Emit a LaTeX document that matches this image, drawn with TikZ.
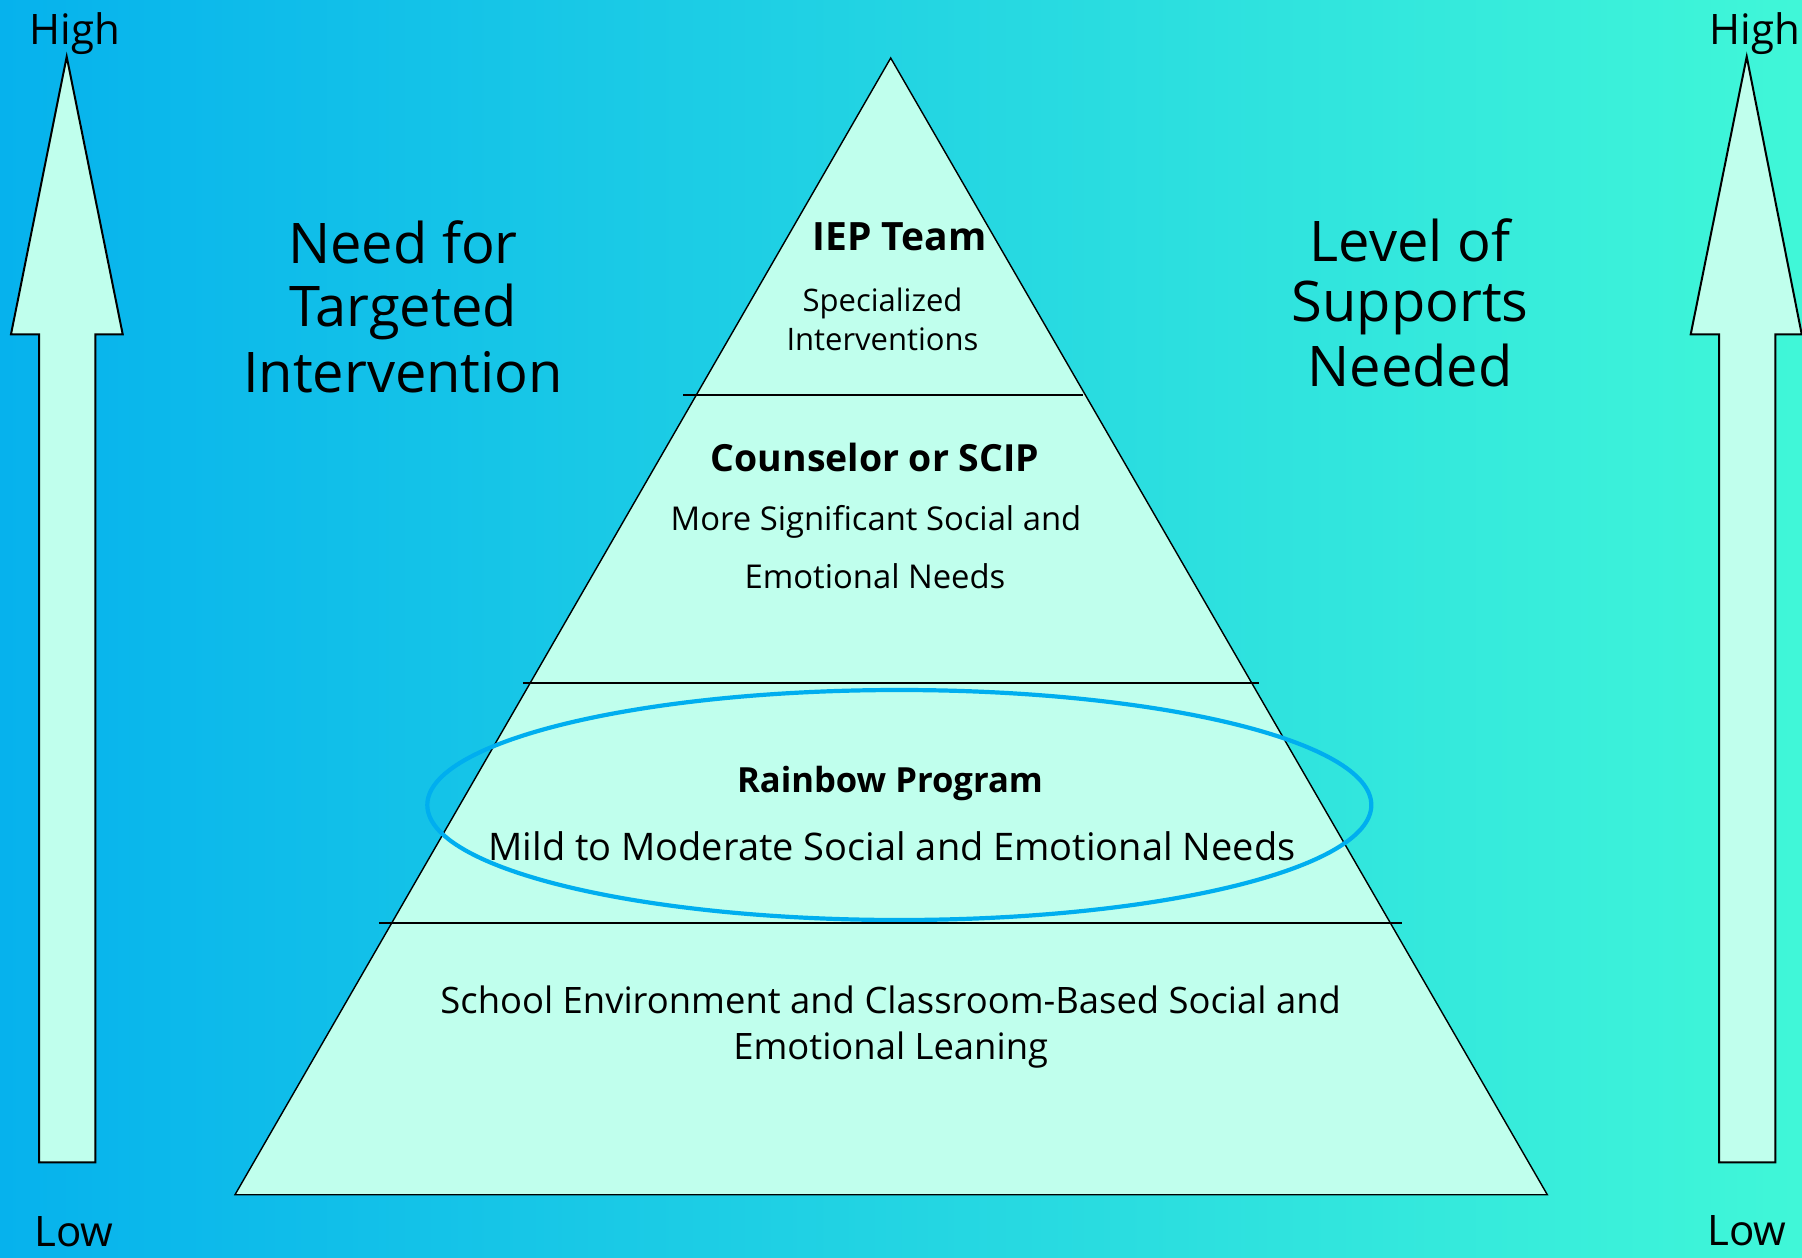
\documentclass[tikz,border=0pt]{standalone}
\usepackage{fontspec}
\setmainfont{Open Sans}
\definecolor{bgL}{RGB}{6,178,237}
\definecolor{bgR}{RGB}{64,247,216}
\definecolor{mint}{RGB}{192,255,237}
\definecolor{ringblue}{RGB}{0,174,239}
\begin{document}
\begin{tikzpicture}[x=0.5pt,y=-0.5pt,
  lbl/.style={anchor=base, inner sep=0pt, text=black},
  hilo/.style={lbl, font=\fontsize{21pt}{25pt}\selectfont},
  sidetitle/.style={lbl, font=\fontsize{28pt}{32pt}\selectfont},
  tierhead/.style={lbl, font=\fontsize{18.7pt}{22pt}\selectfont\bfseries},
  tiertext/.style={lbl, font=\fontsize{16.4pt}{19pt}\selectfont},
  smalltext/.style={lbl, font=\fontsize{15.5pt}{18pt}\selectfont},
  midtext/.style={lbl, font=\fontsize{19pt}{23pt}\selectfont},
  basetext/.style={lbl, font=\fontsize{18.2pt}{22pt}\selectfont},
  arrowshape/.style={draw=black, fill=mint, line width=1pt, line join=miter},
  tierline/.style={draw=black, line width=0.85pt}]
\shade[left color=bgL, right color=bgR] (0,0) rectangle (1802,1257);
\useasboundingbox (0,0) rectangle (1802,1257);

% up arrows
\draw[arrowshape] (66.7,56.7) -- (122.7,334.3) -- (95.3,334.3) -- (95.3,1162.3)
  -- (39,1162.3) -- (39,334.3) -- (11,334.3) -- cycle;
\draw[arrowshape] (1746.7,56.7) -- (1801.7,334.3) -- (1775.3,334.3) -- (1775.3,1162.3)
  -- (1719,1162.3) -- (1719,334.3) -- (1690.7,334.3) -- cycle;

% pyramid
\draw[fill=mint, line width=0.7pt, line join=miter] (890.7,58) -- (235,1194.7) -- (1547.3,1194.7) -- cycle;

% ring
\draw[ringblue, line width=2.1pt] (899.3,805) ellipse [x radius=472, y radius=115];

% tier lines
\coordinate (t1a) at (683.3,395); \coordinate (t1b) at (1083.3,395);
\coordinate (t2a) at (522.8,682.7); \coordinate (t2b) at (1258.9,682.7);
\coordinate (t3a) at (378.8,922.7); \coordinate (t3b) at (1402,922.7);
\draw[tierline] (t1a) -- (t1b);
\draw[tierline] (t2a) -- (t2b);
\draw[tierline] (t3a) -- (t3b);

% High / Low
\node[hilo] (highL) at (75,45) {High};
\node[hilo] (highR) at (1755,45) {High};
\node[hilo] (lowL) at (74,1246) {Low};
\node[hilo] (lowR) at (1747,1245) {Low};

% side titles
\node[sidetitle] (need1) at (403,263.3) {Need for};
\node[sidetitle] (need2) at (403,326) {Targeted};
\node[sidetitle] (need3) at (403,392.7) {Intervention};
\node[sidetitle] (lev1) at (1410,261.7) {Level of};
\node[sidetitle] (lev2) at (1410,321.7) {Supports};
\node[sidetitle] (lev3) at (1410,386.7) {Needed};

% tier texts
\node[tierhead, font=\fontsize{19.5pt}{22pt}\selectfont\bfseries] (iep) at (899.5,250) {IEP Team};
\node[smalltext] (spec1) at (882.5,311.7) {Specialized};
\node[smalltext] (spec2) at (882.5,350) {Interventions};

\node[tierhead] (couns) at (875,471.7) {Counselor or SCIP};
\node[tiertext] (more1) at (876,530.7) {More Significant Social and};
\node[tiertext] (more2) at (875,588.3) {Emotional Needs};

\node[tierhead, font=\fontsize{17.3pt}{21pt}\selectfont\bfseries] (rain) at (890,792.7) {Rainbow Program};
\node[midtext] (mild) at (892,860) {Mild to Moderate Social and Emotional Needs};

\node[basetext] (school1) at (890.7,1013.3) {School Environment and Classroom-Based Social and};
\node[basetext] (school2) at (890.7,1059) {Emotional Leaning};
\end{tikzpicture}
\end{document}
